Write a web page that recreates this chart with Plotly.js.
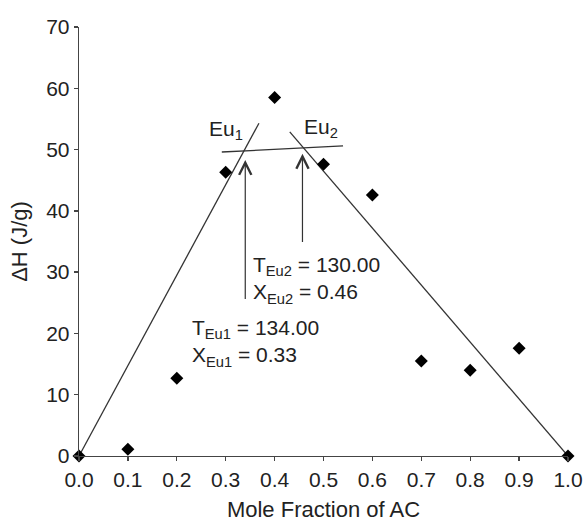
<!DOCTYPE html>
<html>
<head>
<meta charset="utf-8">
<script src="https://cdn.plot.ly/plotly-3.0.1.min.js"></script>
<style>html,body{margin:0;padding:0;background:#fff;}#chart{width:585px;height:522px;}</style>
</head>
<body>
<div id="chart"></div>
<script>
// Measured data points
var moleFraction = [0.0, 0.1, 0.2, 0.3, 0.4, 0.5, 0.6, 0.7, 0.8, 0.9, 1.0];
var deltaH = [0.0, 1.1, 12.7, 46.3, 58.5, 47.6, 42.6, 15.5, 14.0, 17.6, 0.0];

// Fitted lines
var leftLineX = [0.0, 0.368];
var leftLineY = [0.0, 54.3];
var rightLineX = [0.431, 1.0];
var rightLineY = [52.9, 0.0];
var eutecticLineX = [0.292, 0.540];
var eutecticLineY = [49.6, 50.6];

// Arrows: [tailX, tailY, tipX, tipY]
var arrowEu1 = [0.340, 23.5, 0.340, 48.3];
var arrowEu2 = [0.457, 32.8, 0.457, 49.3];

// Labels
var labelEu1 = {x: 0.301, y: 53.2, text: 'Eu<sub>1</sub>'};
var labelEu2 = {x: 0.495, y: 53.5, text: 'Eu<sub>2</sub>'};
var textEu2 = {x: 0.352, y: 28.7, text: 'T<sub>Eu2</sub> = 130.00<br>X<sub>Eu2</sub> = 0.46'};
var textEu1 = {x: 0.226, y: 18.5, text: 'T<sub>Eu1</sub> = 134.00<br>X<sub>Eu1</sub> = 0.33'};

var xTicks = [0, 0.1, 0.2, 0.3, 0.4, 0.5, 0.6, 0.7, 0.8, 0.9, 1.0];
var xTickText = ['0.0', '0.1', '0.2', '0.3', '0.4', '0.5', '0.6', '0.7', '0.8', '0.9', '1.0'];
var yTicks = [0, 10, 20, 30, 40, 50, 60, 70];

var lineStyle = {color: '#333', width: 1.3};
var FONT = 'Liberation Sans, Arial, sans-serif';

var traces = [
  {x: leftLineX, y: leftLineY, mode: 'lines', line: lineStyle, hoverinfo: 'skip', cliponaxis: false},
  {x: rightLineX, y: rightLineY, mode: 'lines', line: lineStyle, hoverinfo: 'skip', cliponaxis: false},
  {x: eutecticLineX, y: eutecticLineY, mode: 'lines', line: lineStyle, hoverinfo: 'skip', cliponaxis: false},
  {x: moleFraction, y: deltaH, mode: 'markers', cliponaxis: false,
   marker: {symbol: 'diamond', size: 10, color: '#000'}}
];

function arrowAnn(a) {
  return {x: a[2], y: a[3], ax: a[0], ay: a[1], xref: 'x', yref: 'y', axref: 'x', ayref: 'y',
    text: ' ', showarrow: true, arrowhead: 5, arrowsize: 2, arrowwidth: 1.2, arrowcolor: '#333', standoff: 0};
}
function textAnn(t, anchor) {
  return {x: t.x, y: t.y, xref: 'x', yref: 'y', text: t.text, showarrow: false,
    xanchor: anchor, yanchor: 'middle', align: 'left',
    font: {family: FONT, size: 21, color: '#222'}};
}

var layout = {
  width: 585, height: 522,
  margin: {l: 79, r: 17, t: 27, b: 66},
  paper_bgcolor: '#fff', plot_bgcolor: '#fff',
  showlegend: false,
  font: {family: FONT, size: 21, color: '#222'},
  xaxis: {
    range: [0, 1], tickvals: xTicks, ticktext: xTickText,
    showgrid: false, zeroline: false, showline: true, linecolor: '#444', linewidth: 1.3,
    ticks: 'outside', ticklen: 4, tickcolor: '#444', tickwidth: 1.3,
    tickfont: {family: FONT, size: 21, color: '#222'},
    title: {text: 'Mole Fraction of AC', font: {family: FONT, size: 22, color: '#222'}, standoff: 12}
  },
  yaxis: {
    range: [0, 70], tickvals: yTicks,
    showgrid: false, zeroline: false, showline: true, linecolor: '#444', linewidth: 1.3,
    ticks: 'outside', ticklen: 4, tickcolor: '#444', tickwidth: 1.3,
    tickfont: {family: FONT, size: 21, color: '#222'},
    title: {text: 'ΔH (J/g)', font: {family: FONT, size: 22, color: '#222'}, standoff: 12}
  },
  annotations: [
    arrowAnn(arrowEu1), arrowAnn(arrowEu2),
    textAnn(labelEu1, 'center'), textAnn(labelEu2, 'center'),
    textAnn(textEu2, 'left'), textAnn(textEu1, 'left')
  ]
};

Plotly.newPlot('chart', traces, layout, {displayModeBar: false, staticPlot: true});
</script>
</body>
</html>
